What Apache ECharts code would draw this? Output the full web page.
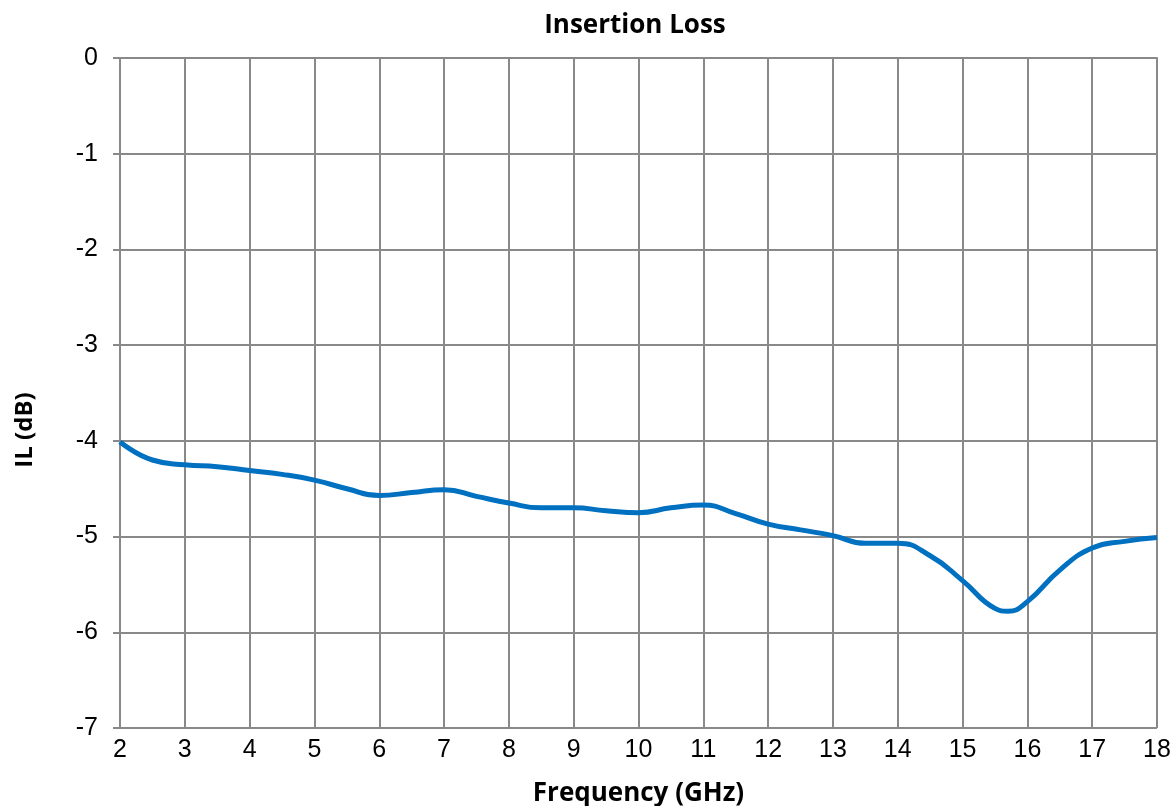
<!DOCTYPE html>
<html>
<head>
<meta charset="utf-8">
<script src="https://cdn.jsdelivr.net/npm/echarts@6/dist/echarts.min.js"></script>
<style>
  html, body { margin: 0; padding: 0; background: #fff; }
  #chart { width: 1174px; height: 806px; }
</style>
</head>
<body>
<div id="chart"></div>
<script>
// frequency (GHz) and insertion loss (dB)
var freq = [2, 2.5, 3, 3.5, 4, 4.5, 5, 5.5, 6, 6.5, 7, 7.5, 8, 8.5, 9, 9.5, 10, 10.5, 11, 11.5, 12, 12.5, 13, 13.5, 14, 14.5, 15, 15.5, 15.7, 16, 16.5, 17, 17.5, 18];
var il = [-4.01, -4.2, -4.25, -4.27, -4.31, -4.35, -4.41, -4.5, -4.57, -4.54, -4.51, -4.58, -4.65, -4.7, -4.7, -4.73, -4.75, -4.7, -4.67, -4.76, -4.87, -4.93, -4.99, -5.07, -5.07, -5.2, -5.46, -5.75, -5.78, -5.68, -5.35, -5.12, -5.05, -5.01];

var pts = [];
for (var i = 0; i < freq.length; i++) {
    pts.push([freq[i], il[i]]);
}

var gridColor = '#898989';
var myChart = echarts.init(document.getElementById('chart'));
var option = {
    animation: false,
    title: {
        text: 'Insertion Loss',
        left: 630,
        textAlign: 'center',
        top: 8,
        textStyle: { fontFamily: 'Open Sans', fontWeight: 'bold', fontSize: 26, color: '#000' }
    },
    grid: { left: 120, right: 17, top: 58, bottom: 78, outerBoundsMode: 'none', containLabel: false },
    xAxis: {
        type: 'value',
        min: 2,
        max: 18,
        interval: 1,
        name: 'Frequency (GHz)',
        nameLocation: 'middle',
        nameGap: 53,
        nameTextStyle: { fontFamily: 'Open Sans', fontWeight: 'bold', fontSize: 26, color: '#000' },
        axisLine: { lineStyle: { color: gridColor, width: 2 } },
        axisTick: { show: false },
        axisLabel: { fontFamily: 'Liberation Sans', fontSize: 25, color: '#000', margin: 10 },
        splitLine: { show: true, lineStyle: { color: gridColor, width: 2 } }
    },
    yAxis: {
        type: 'value',
        min: -7,
        max: 0,
        interval: 1,
        axisLine: { show: true, lineStyle: { color: gridColor, width: 2 } },
        axisTick: { show: true, length: 7, lineStyle: { color: gridColor, width: 2 } },
        axisLabel: { fontFamily: 'Liberation Sans', fontSize: 25, color: '#000', margin: 22 },
        splitLine: { show: true, lineStyle: { color: gridColor, width: 2 } }
    },
    graphic: [{
        type: 'text',
        x: 25,
        y: 430,
        rotation: Math.PI / 2,
        style: {
            text: 'IL (dB)',
            fontFamily: 'Open Sans',
            fontWeight: 'bold',
            fontSize: 24,
            fill: '#000',
            textAlign: 'center',
            textVerticalAlign: 'middle'
        }
    }],
    series: [{
        type: 'line',
        data: pts,
        smooth: 0.5,
        symbol: 'none',
        lineStyle: { color: '#0070C0', width: 5 }
    }]
};
myChart.setOption(option);
</script>
</body>
</html>
